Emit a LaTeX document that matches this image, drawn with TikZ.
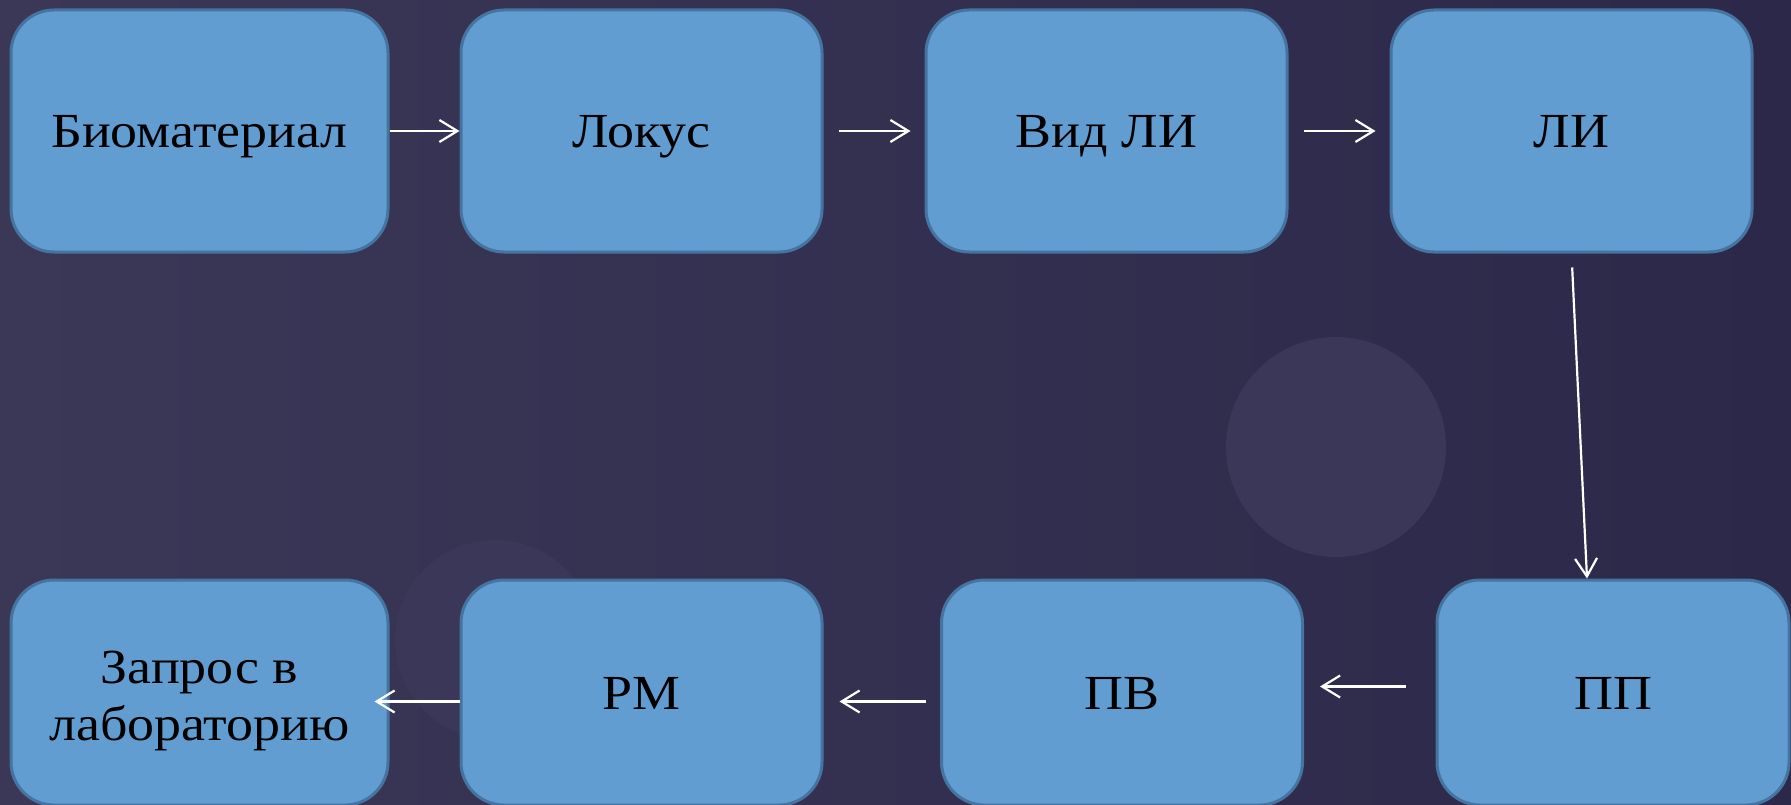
\documentclass[tikz,border=0pt]{standalone}
\usepackage{fontspec}
\setmainfont[FakeStretch=1.1]{Liberation Serif}
\usetikzlibrary{arrows.meta}

\definecolor{fonL}{HTML}{3A3757}
\definecolor{fonR}{HTML}{2B2849}
\definecolor{krug}{HTML}{3A3759}
\definecolor{zalivka}{HTML}{619DD1}
\definecolor{kant}{HTML}{4674A0}

\tikzset{
  blok/.style={draw=kant, fill=zalivka, line width=3pt, rounded corners=43pt,
    minimum height=242pt, anchor=center, align=center, text=black,
    text height=33pt, text depth=0pt, font=\fontsize{49}{57}\selectfont},
  strelka/.style={draw=white, line width=2.2pt,
    -{Straight Barb[length=18pt, width=22pt, line width=2.2pt]}}
}

\begin{document}
\begin{tikzpicture}[x=1pt, y=-1pt]
      \useasboundingbox (0,0) rectangle (1791,805);
      \shade[left color=fonL, right color=fonR] (0,0) rectangle (1791,805);
      \fill[krug] (1336,447) circle (110);
      \fill[krug] (495,640) circle (100);

      \node[blok, minimum width=377pt] (bio) at (199.5,131) {Биоматериал};
      \node[blok, minimum width=361pt] (lok) at (641.5,131) {Локус};
      \node[blok, minimum width=361pt] (vid) at (1106.5,131) {Вид ЛИ};
      \node[blok, minimum width=361pt] (li) at (1571.5,131) {ЛИ};

      \node[blok, minimum width=377pt, minimum height=225pt] (zap) at (199.5,692.5) {};
      \node[font=\fontsize{49}{57}\selectfont, align=center, text=black] (zaptxt) at (199.5,701) {Запрос в\\лабораторию};
      \node[blok, minimum width=361pt, minimum height=225pt] (rm) at (641.5,692.5) {РМ};
      \node[blok, minimum width=361pt, minimum height=225pt] (pv) at (1122,692.5) {ПВ};
      \node[blok, minimum width=352pt, minimum height=225pt] (pp) at (1613,692.5) {ПП};

      \draw[strelka] (bio.east) -- (lok.west);
      \draw[strelka, shorten <=15pt, shorten >=14pt] (lok.east) -- (vid.west);
      \draw[strelka, shorten <=15pt, shorten >=14pt] (vid.east) -- (li.west);
      \draw[strelka, shorten <=14pt] (li.south) -- ([xshift=-26pt]pp.north);
      \draw[strelka, shorten <=30pt, shorten >=16pt] ([yshift=6pt]pp.west) -- ([yshift=6pt]pv.east);
      \draw[strelka, shorten <=14pt, shorten >=16pt] ([yshift=-9pt]pv.west) -- ([yshift=-9pt]rm.east);
      \draw[strelka, shorten >=-15pt] ([yshift=-9pt]rm.west) -- ([yshift=-9pt]zap.east);
\end{tikzpicture}
\end{document}
